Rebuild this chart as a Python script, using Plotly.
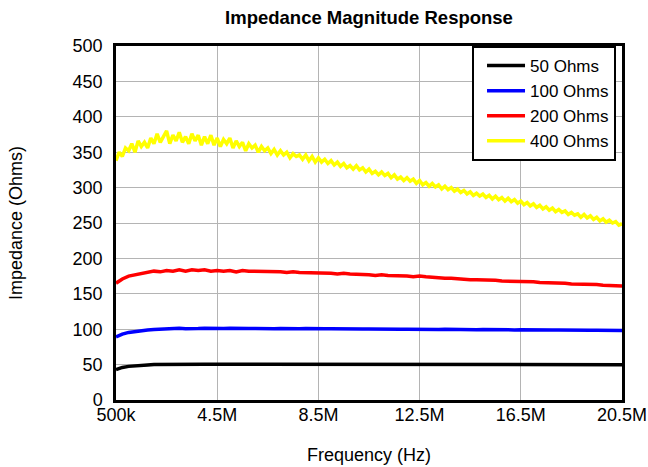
import plotly.graph_objects as go

freq_mhz = [0.5, 0.75, 1.0, 1.25, 1.5, 1.75, 2.0, 2.25, 2.5, 2.75,
            3.0, 3.25, 3.5, 3.75, 4.0, 4.25, 4.5, 4.75, 5.0, 5.25,
            5.5, 5.75, 6.0, 6.25, 6.5, 6.75, 7.0, 7.25, 7.5, 7.75,
            8.0, 8.25, 8.5, 8.75, 9.0, 9.25, 9.5, 9.75, 10.0, 10.25,
            10.5, 10.75, 11.0, 11.25, 11.5, 11.75, 12.0, 12.25, 12.5, 12.75,
            13.0, 13.25, 13.5, 13.75, 14.0, 14.25, 14.5, 14.75, 15.0, 15.25,
            15.5, 15.75, 16.0, 16.25, 16.5, 16.75, 17.0, 17.25, 17.5, 17.75,
            18.0, 18.25, 18.5, 18.75, 19.0, 19.25, 19.5, 19.75, 20.0, 20.25,
            20.5]

ohms_50 = [43, 46, 47.5, 48.5, 49, 49.5, 50, 50.2, 50.4, 50.5,
           50.6, 50.4, 50.7, 50.5, 50.6, 50.5, 50.7, 50.5, 50.6, 50.4,
           50.6, 50.5, 50.5, 50.4, 50.6, 50.5, 50.5, 50.4, 50.5, 50.4,
           50.5, 50.4, 50.5, 50.4, 50.5, 50.3, 50.4, 50.3, 50.4, 50.3,
           50.4, 50.3, 50.4, 50.3, 50.3, 50.2, 50.3, 50.2, 50.3, 50.2,
           50.3, 50.2, 50.2, 50.1, 50.2, 50.1, 50.2, 50.1, 50.2, 50.1,
           50.1, 50.0, 50.1, 50.0, 50.1, 50.0, 50.1, 50.0, 50.0, 50.0,
           50.0, 49.9, 50.0, 49.9, 50.0, 49.9, 50.0, 49.9, 49.9, 49.9,
           49.9]

ohms_100 = [89, 93, 95.5, 97, 98, 99, 99.5, 100, 100.5, 100.8,
            101.2, 100.7, 101.4, 100.9, 101.3, 100.8, 101.4, 100.9, 101.2, 100.8,
            101.3, 100.9, 101.1, 100.7, 101.2, 100.8, 101.0, 100.6, 101.0, 100.7,
            100.9, 100.5, 100.8, 100.5, 100.7, 100.4, 100.6, 100.3, 100.5, 100.2,
            100.4, 100.1, 100.3, 100.0, 100.2, 99.9, 100.1, 99.8, 100.0, 99.7,
            99.9, 99.6, 99.8, 99.5, 99.7, 99.4, 99.6, 99.3, 99.5, 99.2,
            99.4, 99.1, 99.3, 99.0, 99.2, 98.9, 99.1, 98.8, 99.0, 98.7,
            98.9, 98.6, 98.8, 98.5, 98.7, 98.4, 98.6, 98.3, 98.5, 98.2,
            98.3]

ohms_200 = [165, 171, 175, 177, 179, 180, 182, 181, 183, 182,
            184, 182, 184, 183, 184, 182, 183, 182, 183, 181,
            183, 182, 182, 181, 182, 181, 181, 180, 181, 180,
            180, 179, 180, 179, 179, 178, 179, 178, 178, 177,
            177, 176, 177, 176, 176, 175, 175, 174, 175, 174,
            173, 173, 172, 172, 171, 171, 170, 170, 170, 169,
            169, 168, 168, 168, 168, 167, 167, 166, 166, 165,
            165, 165, 164, 164, 163, 163, 163, 162, 162, 162,
            161]

freq_mhz_400 = [0.5, 0.625, 0.75, 0.875,
                1.0, 1.125, 1.25, 1.375, 1.5, 1.625, 1.75, 1.875,
                2.0, 2.125, 2.25, 2.375, 2.5, 2.625, 2.75, 2.875,
                3.0, 3.125, 3.25, 3.375, 3.5, 3.625, 3.75, 3.875,
                4.0, 4.125, 4.25, 4.375, 4.5, 4.625, 4.75, 4.875,
                5.0, 5.125, 5.25, 5.375, 5.5, 5.625, 5.75, 5.875,
                6.0, 6.125, 6.25, 6.375, 6.5, 6.625, 6.75, 6.875,
                7.0, 7.125, 7.25, 7.375, 7.5, 7.625, 7.75, 7.875,
                8.0, 8.125, 8.25, 8.375, 8.5, 8.625, 8.75, 8.875,
                9.0, 9.125, 9.25, 9.375, 9.5, 9.625, 9.75, 9.875,
                10.0, 10.125, 10.25, 10.375, 10.5, 10.625, 10.75, 10.875,
                11.0, 11.125, 11.25, 11.375, 11.5, 11.625, 11.75, 11.875,
                12.0, 12.125, 12.25, 12.375, 12.5, 12.625, 12.75, 12.875,
                13.0, 13.125, 13.25, 13.375, 13.5, 13.625, 13.75, 13.875,
                14.0, 14.125, 14.25, 14.375, 14.5, 14.625, 14.75, 14.875,
                15.0, 15.125, 15.25, 15.375, 15.5, 15.625, 15.75, 15.875,
                16.0, 16.125, 16.25, 16.375, 16.5, 16.625, 16.75, 16.875,
                17.0, 17.125, 17.25, 17.375, 17.5, 17.625, 17.75, 17.875,
                18.0, 18.125, 18.25, 18.375, 18.5, 18.625, 18.75, 18.875,
                19.0, 19.125, 19.25, 19.375, 19.5, 19.625, 19.75, 19.875,
                20.0, 20.125, 20.25, 20.375, 20.5]

ohms_400 = [338, 350, 344, 356,
            352, 362, 350, 366, 358, 364, 356, 370,
            362, 376, 364, 372, 380, 362, 374, 366,
            378, 364, 372, 362, 376, 366, 374, 360,
            372, 362, 374, 360, 370, 358, 368, 362,
            370, 356, 366, 358, 364, 352, 362, 356,
            360, 350, 358, 352, 356, 348, 354, 346,
            352, 346, 350, 342, 348, 344, 346, 340,
            346, 338, 344, 336, 342, 336, 340, 334,
            338, 332, 336, 330, 334, 328, 331, 326,
            331, 325, 328, 322, 326, 320, 323, 318,
            322, 317, 320, 314, 318, 312, 315, 310,
            314, 309, 312, 306, 310, 304, 307, 302,
            306, 301, 304, 298, 302, 297, 300, 295,
            298, 293, 296, 291, 294, 289, 292, 288,
            291, 286, 289, 284, 288, 283, 286, 281,
            285, 280, 283, 278, 281, 276, 279, 274,
            277, 272, 275, 270, 273, 268, 271, 266,
            269, 265, 267, 262, 265, 261, 263, 258,
            262, 257, 260, 255, 258, 253, 256, 251,
            254, 250, 252, 247, 249]

series_names = ["50 Ohms", "100 Ohms", "200 Ohms", "400 Ohms"]
series_x = [freq_mhz, freq_mhz, freq_mhz, freq_mhz_400]
series_vals = [ohms_50, ohms_100, ohms_200, ohms_400]
series_colors = ["#000000", "#0000ff", "#ff0000", "#ffff00"]

x_tick_vals = [0.5, 4.5, 8.5, 12.5, 16.5, 20.5]
x_tick_text = ["500k", "4.5M", "8.5M", "12.5M", "16.5M", "20.5M"]
y_tick_vals = [0, 50, 100, 150, 200, 250, 300, 350, 400, 450, 500]

fig = go.Figure()
for name, xs, vals, col in zip(series_names, series_x, series_vals, series_colors):
    fig.add_trace(go.Scatter(x=xs, y=vals, mode="lines", name=name,
                             line=dict(color=col, width=3.5)))

font_family = "Liberation Sans, Arial, sans-serif"
fig.update_layout(
    width=648, height=467,
    margin=dict(l=116, r=26, t=46, b=67, autoexpand=False),
    paper_bgcolor="white", plot_bgcolor="white",
    font=dict(family=font_family, color="black", size=18),
    title=dict(text="<b>Impedance Magnitude Response</b>", xref="paper", x=0.5,
               xanchor="center", yref="container", y=0.962, yanchor="middle",
               font=dict(size=18.5)),
    legend=dict(x=0.7036, y=1.0, xanchor="left", yanchor="top",
                bordercolor="black", borderwidth=2, bgcolor="white",
                font=dict(size=17), tracegroupgap=0, itemwidth=38,
                indentation=8),
    showlegend=True,
)
fig.update_xaxes(range=[0.5, 20.5], tickvals=x_tick_vals, ticktext=x_tick_text,
                 showgrid=True, gridcolor="#b4b4b4", gridwidth=1,
                 showline=True, linecolor="black", linewidth=2.5, mirror=True,
                 ticks="", zeroline=False, ticklabelstandoff=-3, automargin=False,
                 title=dict(text="Frequency (Hz)", font=dict(size=18), standoff=25))
fig.update_yaxes(range=[0, 500], tickvals=y_tick_vals,
                 showgrid=True, gridcolor="#b4b4b4", gridwidth=1,
                 showline=True, linecolor="black", linewidth=2.5, mirror=True,
                 ticks="", zeroline=False, ticklabelstandoff=7, automargin=False,
                 title=dict(text="Impedance (Ohms)", font=dict(size=18), standoff=46))

fig.write_html("out.html", config={"displayModeBar": False},
               post_script="document.body.style.margin='0px';document.body.style.overflow='hidden';")
